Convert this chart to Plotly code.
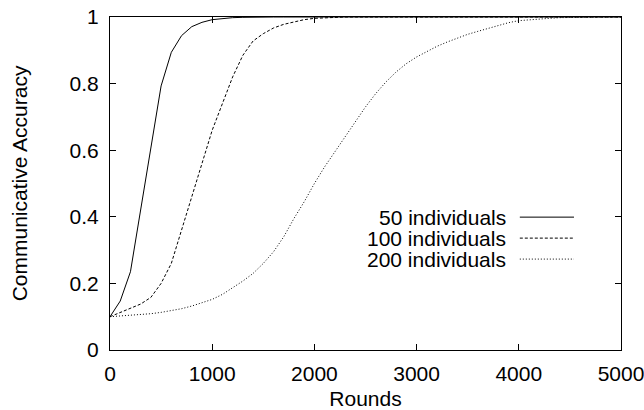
import plotly.graph_objects as go

# Rounds sampled every 100
rounds = list(range(0, 5001, 100))

acc_50 = [0.100, 0.147, 0.235, 0.420, 0.610, 0.793, 0.894, 0.944, 0.971, 0.984,
          0.992, 0.996, 0.998, 0.999] + [1.0] * 37

acc_100 = [0.100, 0.113, 0.125, 0.138, 0.158, 0.200, 0.260, 0.360, 0.460, 0.565,
           0.660, 0.740, 0.820, 0.885, 0.928, 0.950, 0.967, 0.978, 0.986, 0.992,
           0.996, 0.998, 0.999] + [1.0] * 28

acc_200 = [0.100, 0.102, 0.104, 0.106, 0.109, 0.113, 0.118, 0.124, 0.132, 0.141,
           0.152, 0.167, 0.186, 0.207, 0.230, 0.260, 0.295, 0.340, 0.395, 0.445,
           0.500, 0.550, 0.595, 0.640, 0.685, 0.730, 0.770, 0.805, 0.835, 0.860,
           0.880, 0.897, 0.912, 0.925, 0.937, 0.948, 0.957, 0.966, 0.975, 0.983,
           0.989, 0.992, 0.995, 0.996, 0.998, 0.999] + [1.0] * 5

series_names = ["50 individuals", "100 individuals", "200 individuals"]
series_values = [acc_50, acc_100, acc_200]
dash_styles = ["solid", "3px,2px", "1px,2px"]

FONT = "Liberation Sans, Arial, sans-serif"
FS = 21

fig = go.Figure()
for name, vals, dash in zip(series_names, series_values, dash_styles):
    fig.add_trace(go.Scatter(
        x=rounds, y=vals, mode="lines", name=name,
        line=dict(color="black", width=1, dash=dash),
        showlegend=False,
    ))

# gnuplot-style key: label on the left, line sample on the right
key_y = [0.399, 0.336, 0.273]
for name, dash, ky in zip(series_names, dash_styles, key_y):
    fig.add_annotation(
        xref="paper", yref="paper", x=0.776, y=ky, text=name,
        showarrow=False, xanchor="right", yanchor="middle",
        height=19, valign="middle", borderpad=0,
        font=dict(family=FONT, size=FS, color="black"),
    )
    fig.add_shape(
        type="line", xref="paper", yref="paper",
        x0=0.802, x1=0.908, y0=ky, y1=ky,
        line=dict(color="black", width=1, dash=dash),
    )

axis_common = dict(
    showgrid=False, zeroline=False, showline=True, linecolor="black",
    linewidth=1, mirror="allticks", ticks="inside", ticklen=6,
    tickcolor="black", tickwidth=1, automargin=False,
    ticklabeloverflow="allow",
    tickfont=dict(family=FONT, size=FS, color="black"),
)

fig.update_layout(
    width=644, height=410,
    margin=dict(l=110, r=23, t=17, b=60),
    paper_bgcolor="white", plot_bgcolor="white",
    font=dict(family=FONT, size=FS, color="black"),
    xaxis=dict(range=[0, 5000], dtick=1000, tick0=0, ticklabelstandoff=5,
               title=dict(text="Rounds", standoff=13,
                          font=dict(family=FONT, size=FS)),
               **axis_common),
    yaxis=dict(range=[0, 1], dtick=0.2, tick0=0, ticklabelstandoff=6,
               title=dict(text="Communicative Accuracy", standoff=36,
                          font=dict(family=FONT, size=FS)),
               **axis_common),
)

fig.write_html("out.html")
